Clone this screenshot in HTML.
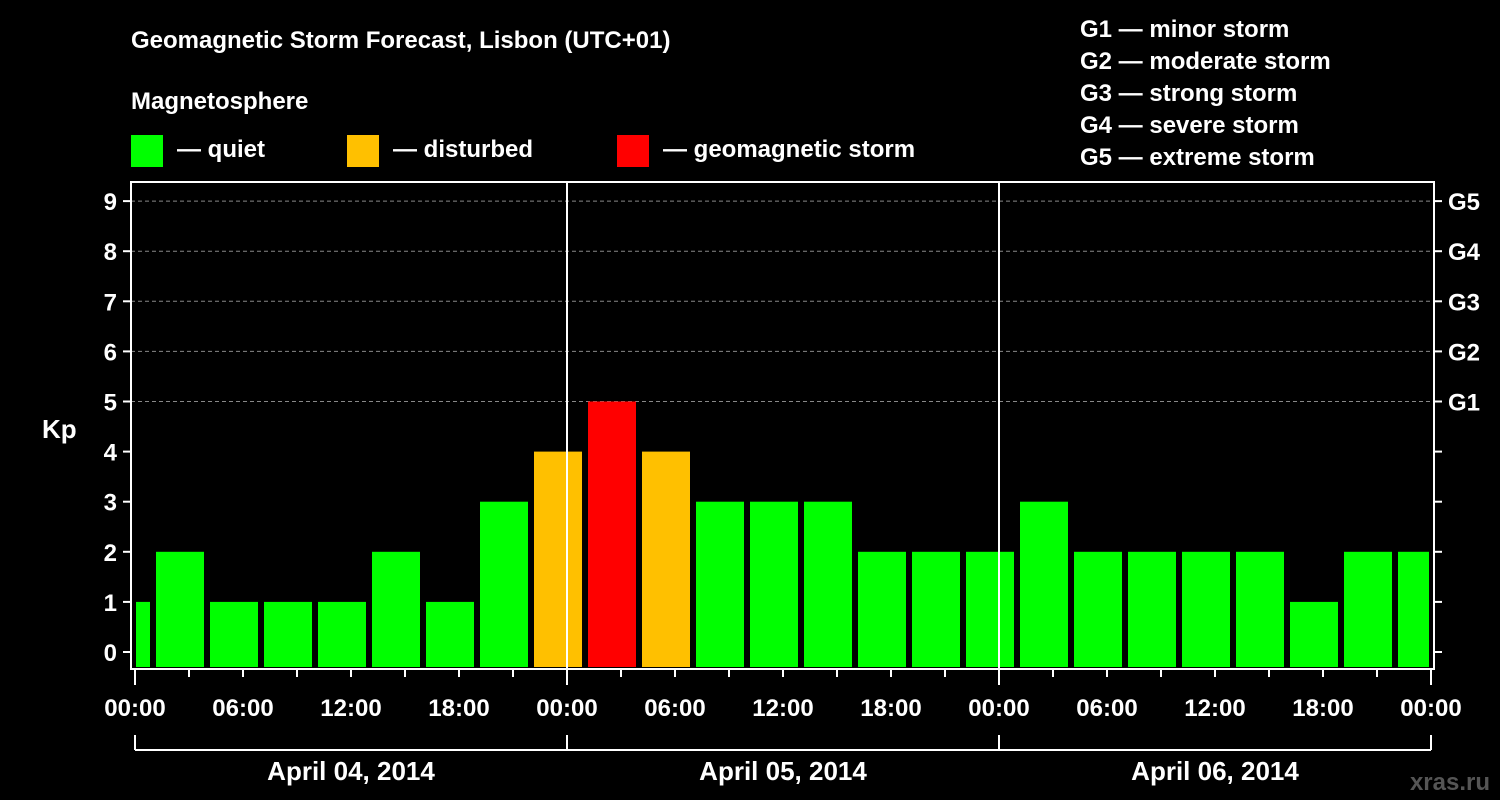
<!DOCTYPE html>
<html><head><meta charset="utf-8"><style>
body{margin:0;background:#000;width:1500px;height:800px;overflow:hidden}
svg{display:block}
text{font-family:"Liberation Sans",Arial,sans-serif;font-weight:bold;fill:#fff}
</style></head><body>
<svg id="chart" width="1500" height="800">
<text x="131" y="48" font-size="24">Geomagnetic Storm Forecast, Lisbon (UTC+01)</text>
<text x="131" y="109" font-size="24">Magnetosphere</text>
<g>
<rect x="131" y="135" width="32" height="32" fill="#00ff00"/>
<text x="177" y="157" font-size="24">— quiet</text>
<rect x="347" y="135" width="32" height="32" fill="#ffc000"/>
<text x="393" y="157" font-size="24">— disturbed</text>
<rect x="617" y="135" width="32" height="32" fill="#ff0000"/>
<text x="663" y="157" font-size="24">— geomagnetic storm</text>
</g>
<g font-size="24">
<text x="1080" y="37">G1 — minor storm</text>
<text x="1080" y="69">G2 — moderate storm</text>
<text x="1080" y="101">G3 — strong storm</text>
<text x="1080" y="133">G4 — severe storm</text>
<text x="1080" y="165">G5 — extreme storm</text>
</g>
<text x="42" y="438" font-size="26">Kp</text>
<text x="1490" y="790" font-size="24" text-anchor="end" fill="#666" style="fill:#555">xras.ru</text>
<g id="grid"></g><g id="bars"></g><g id="axes"></g>
</svg>
<script>
const kpValues=[1,2,1,1,1,2,1,3,4,5,4,3,3,3,2,2,2,3,2,2,2,2,1,2,2];
const startHours=[-2,1,4,7,10,13,16,19,22,25,28,31,34,37,40,43,46,49,52,55,58,61,64,67,70];
const yTicks=[0,1,2,3,4,5,6,7,8,9];
const gLabels=["G1","G2","G3","G4","G5"];
const gLevels=[5,6,7,8,9];
const xTickLabels=["00:00","06:00","12:00","18:00","00:00","06:00","12:00","18:00","00:00","06:00","12:00","18:00","00:00"];
const dayLabels=["April 04, 2014","April 05, 2014","April 06, 2014"];
const NS="http://www.w3.org/2000/svg";
const X0=135,X1=1431,PX=18,L=131,R=1434,T=182,B=669;
const xs=h=>X0+h*PX, ys=v=>652-v*50.1;
function el(tag,attrs,parent,txt){const e=document.createElementNS(NS,tag);for(const k in attrs)e.setAttribute(k,attrs[k]);if(txt!==undefined)e.textContent=txt;parent.appendChild(e);return e;}
const grid=document.getElementById('grid'),bars=document.getElementById('bars'),axes=document.getElementById('axes');
gLevels.forEach(v=>{const l=el('line',{x1:L,x2:R,y1:ys(v),y2:ys(v),stroke:'#888','stroke-dasharray':'4,3','stroke-width':1},grid);

});
kpValues.forEach((v,i)=>{const a=Math.max(xs(startHours[i])+3,X0+1),b=Math.min(xs(startHours[i]+3)-3,X1-2);
const c=v>=5?'#ff0000':v>=4?'#ffc000':'#00ff00';
const r=el('rect',{x:a,y:ys(v),width:b-a,height:667-ys(v),fill:c},bars);

});
// day separators
[1,2].forEach(d=>{const l=el('line',{x1:xs(24*d),x2:xs(24*d),y1:T,y2:B,stroke:'#fff','stroke-width':2},axes);

});
const frame=el('rect',{x:L,y:T,width:R-L,height:B-T,fill:'none',stroke:'#fff','stroke-width':2},axes);


yTicks.forEach(v=>{const y=ys(v);
el('line',{x1:L-8,x2:L,y1:y,y2:y,stroke:'#fff','stroke-width':2},axes);
el('line',{x1:R,x2:R+8,y1:y,y2:y,stroke:'#fff','stroke-width':2},axes);
const t=el('text',{x:L-14,y:y+9,'font-size':24,'text-anchor':'end'},axes,String(v));

});
gLevels.forEach((v,i)=>{const t=el('text',{x:1448,y:ys(v)+9,'font-size':24},axes,gLabels[i]);

});
for(let h=0;h<=72;h+=3){const major=h%6===0;el('line',{x1:xs(h),x2:xs(h),y1:B,y2:major?(h%24===0?685:677):677,stroke:'#fff','stroke-width':2},axes);}
xTickLabels.forEach((s,i)=>{const t=el('text',{x:xs(i*6),y:716,'font-size':24,'text-anchor':'middle'},axes,s);

});
el('line',{x1:X0,x2:X1,y1:750,y2:750,stroke:'#fff','stroke-width':2},axes);
for(let d=0;d<=3;d++)el('line',{x1:xs(24*d),x2:xs(24*d),y1:735,y2:750,stroke:'#fff','stroke-width':2},axes);
dayLabels.forEach((s,i)=>{const t=el('text',{x:xs(24*i+12),y:780,'font-size':26,'text-anchor':'middle'},axes,s);

});
</script>
</body></html>
